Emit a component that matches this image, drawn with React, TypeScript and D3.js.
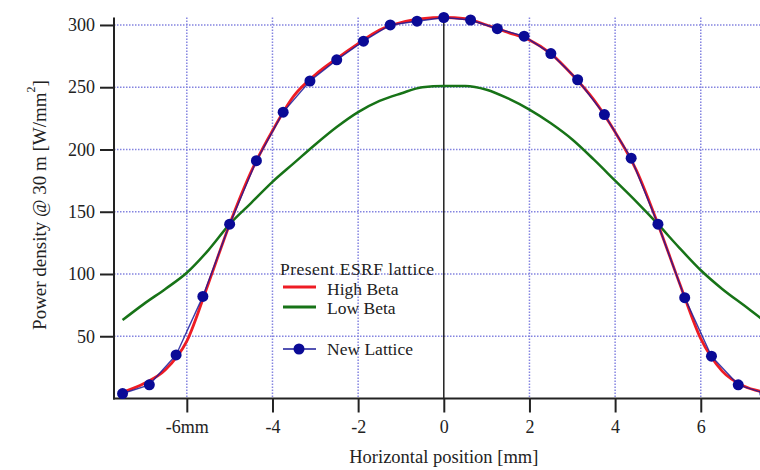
import React, { useEffect, useRef } from 'react';
import * as d3 from 'd3';

// New Lattice markers (mm, W/mm2)
const newX = [-7.5, -6.875, -6.25, -5.625, -5, -4.375, -3.75, -3.125, -2.5, -1.875, -1.25, -0.625, 0,
  0.625, 1.25, 1.875, 2.5, 3.125, 3.75, 4.375, 5, 5.625, 6.25, 6.875, 7.5];
const newY = [4, 11, 35, 82, 140, 191, 230, 255, 272, 287, 300, 303, 306,
  304, 297, 291, 277, 256, 228, 193, 140, 81, 34, 11, 4];

// Present ESRF lattice, high beta
const highX = [-7.5, -7, -6.5, -6, -5.5, -5, -4.5, -4, -3.5, -3, -2.5, -2, -1.5, -1, -0.5, 0,
  0.5, 1, 1.5, 2, 2.5, 3, 3.5, 4, 4.5, 5, 5.5, 6, 6.5, 7, 7.5];
const highY = [5, 12, 23, 46, 92, 140, 182, 215, 243, 260, 273, 285, 296, 302, 305, 306,
  305, 300, 294, 288, 277, 260, 240, 214, 183, 140, 93, 48, 22, 10, 5];

// Present ESRF lattice, low beta
const lowX = [-7.5, -7, -6.5, -6, -5.5, -5, -4.5, -4, -3.5, -3, -2.5, -2, -1.5, -1, -0.5, 0,
  0.5, 1, 1.5, 2, 2.5, 3, 3.5, 4, 4.5, 5, 5.5, 6, 6.5, 7, 7.5, 7.7];
const lowY = [63, 76, 88, 101, 119, 140, 157, 174, 189, 204, 218, 230, 239, 245, 250, 251,
  251, 248, 241, 232, 221, 208, 192, 175, 158, 140, 121, 103, 88, 75, 62, 57];

const xTicks = [-6, -4, -2, 0, 2, 4, 6];
const yTicks = [50, 100, 150, 200, 250, 300];

const W = 760;
const H = 470;
const FONT = 'Liberation Serif, Times New Roman, DejaVu Serif, serif';

const App = () => {
  const svgRef = useRef<SVGSVGElement>(null);

  useEffect(() => {
    const svg = d3.select(svgRef.current);
    svg.selectAll('*').remove();

    const x = d3.scaleLinear().domain([-7.7, 7.7]).range([114, 114 + 15.4 * 42.83]);
    const y = d3.scaleLinear().domain([0, 306]).range([398.5, 17.5]);
    const left = 114, right = W, top = 17.5, bottom = 398.5;

    // grid
    const grid = svg.append('g')
      .attr('stroke', '#8484e0')
      .attr('stroke-width', 1.5)
      .attr('stroke-dasharray', '1.5,1.5');
    yTicks.forEach(t => {
      grid.append('line').attr('x1', left).attr('x2', right).attr('y1', y(t)).attr('y2', y(t));
    });
    xTicks.filter(t => t !== 0).forEach(t => {
      grid.append('line').attr('x1', x(t)).attr('x2', x(t)).attr('y1', top).attr('y2', bottom);
    });

    // zero line
    svg.append('line')
      .attr('x1', x(0)).attr('x2', x(0)).attr('y1', top).attr('y2', bottom)
      .attr('stroke', '#222').attr('stroke-width', 1.5);

    // axes
    const xAxis = d3.axisBottom(x).tickValues(xTicks).tickSize(14).tickPadding(8)
      .tickFormat(d => (d === -6 ? '-6mm' : String(d)));
    svg.append('g')
      .attr('transform', `translate(0,${bottom})`)
      .call(xAxis)
      .call(g => g.select('.domain').remove())
      .call(g => g.selectAll('.tick line').attr('stroke', '#222').attr('stroke-width', 2))
      .call(g => g.selectAll('.tick text').style('font-size', '18px').style('font-family', FONT).attr('fill', '#222'));

    const yAxis = d3.axisLeft(y).tickValues(yTicks).tickSize(14).tickPadding(5);
    svg.append('g')
      .attr('transform', `translate(${left},0)`)
      .call(yAxis)
      .call(g => g.select('.domain').remove())
      .call(g => g.selectAll('.tick line').attr('stroke', '#222').attr('stroke-width', 2))
      .call(g => g.selectAll('.tick text').style('font-size', '18px').style('font-family', FONT).attr('fill', '#222'));

    svg.append('line').attr('x1', left).attr('x2', left).attr('y1', top).attr('y2', bottom + 1)
      .attr('stroke', '#222').attr('stroke-width', 2);
    svg.append('line').attr('x1', left - 1).attr('x2', right).attr('y1', bottom).attr('y2', bottom)
      .attr('stroke', '#222').attr('stroke-width', 2);

    // curves
    const line = d3.line<[number, number]>()
      .x(d => x(d[0])).y(d => y(d[1]))
      .curve(d3.curveMonotoneX);

    svg.append('path')
      .attr('d', line(lowX.map((v, i) => [v, lowY[i]] as [number, number])))
      .attr('fill', 'none').attr('stroke', '#177317').attr('stroke-width', 2.5);
    svg.append('path')
      .attr('d', line(highX.map((v, i) => [v, highY[i]] as [number, number])))
      .attr('fill', 'none').attr('stroke', '#ee1c24').attr('stroke-width', 2.8);

    const straight = d3.line<[number, number]>().x(d => x(d[0])).y(d => y(d[1]));
    const newPts = newX.map((v, i) => [v, newY[i]] as [number, number]);
    svg.append('path')
      .attr('d', straight(newPts))
      .attr('fill', 'none').attr('stroke', '#1a1a9a').attr('stroke-width', 1.4).attr('stroke-opacity', 0.85);
    svg.append('g').selectAll('circle').data(newPts).join('circle')
      .attr('cx', d => x(d[0])).attr('cy', d => y(d[1])).attr('r', 5.5)
      .attr('fill', '#0a0a96');

    // axis titles
    svg.append('text')
      .attr('x', x(0)).attr('y', 463)
      .attr('text-anchor', 'middle')
      .style('font-family', FONT).style('font-size', '18.5px').attr('fill', '#222')
      .text('Horizontal position [mm]');

    const yl = svg.append('text')
      .attr('transform', 'translate(46,205) rotate(-90)')
      .attr('text-anchor', 'middle')
      .style('font-family', FONT).style('font-size', '19px').attr('fill', '#222');
    yl.append('tspan').text('Power density @ 30 m [W/mm');
    yl.append('tspan').style('font-size', '12px').attr('dy', -11).text('2');
    yl.append('tspan').attr('dy', 11).text(']');

    // legend
    const lg = svg.append('g').style('font-family', FONT).style('font-size', '17.5px').attr('fill', '#222');
    lg.append('text').attr('x', 280).attr('y', 275).attr('textLength', 154).text('Present ESRF lattice');
    lg.append('line').attr('x1', 283).attr('x2', 316).attr('y1', 287).attr('y2', 287)
      .attr('stroke', '#ee1c24').attr('stroke-width', 2.8);
    lg.append('text').attr('x', 327).attr('y', 295).text('High Beta');
    lg.append('line').attr('x1', 283).attr('x2', 316).attr('y1', 307).attr('y2', 307)
      .attr('stroke', '#177317').attr('stroke-width', 2.8);
    lg.append('text').attr('x', 327).attr('y', 314).text('Low Beta');
    lg.append('line').attr('x1', 283).attr('x2', 316).attr('y1', 349).attr('y2', 349)
      .attr('stroke', '#1a1a9a').attr('stroke-width', 1.4);
    lg.append('circle').attr('cx', 299).attr('cy', 349).attr('r', 5.5).attr('fill', '#0a0a96');
    lg.append('text').attr('x', 327).attr('y', 355).text('New Lattice');
  }, []);

  return (
    <svg ref={svgRef} width={W} height={H} viewBox={`0 0 ${W} ${H}`}
      style={{ position: 'absolute', left: 0, top: 0, background: '#fff', overflow: 'hidden' }}>
    </svg>
  );
};

export default App;
